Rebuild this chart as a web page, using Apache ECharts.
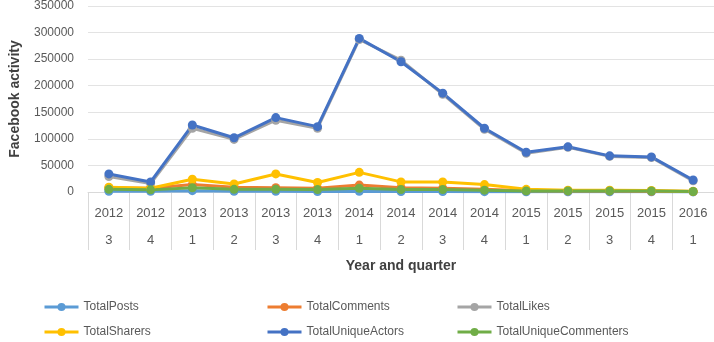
<!DOCTYPE html>
<html><head><meta charset="utf-8">
<script src="https://cdn.jsdelivr.net/npm/echarts@6/dist/echarts.min.js"></script>
<style>html,body{margin:0;padding:0;background:#fff}#c{width:714px;height:342px}</style>
</head><body><div id="c"></div>
<script>
var years = ['2012','2012','2013','2013','2013','2013','2014','2014','2014','2014','2015','2015','2015','2015','2016'];
var quarters = ['3','4','1','2','3','4','1','2','3','4','1','2','3','4','1'];
var yTicks = [0,50000,100000,150000,200000,250000,300000,350000];
var totalPosts = [1500,1200,2500,1500,1200,1000,1500,1000,900,700,500,400,400,300,200];
var totalComments = [8000,7000,14000,9000,8000,7000,13000,8000,7000,5000,2500,2000,2000,1500,800];
var totalLikes = [29000,16000,120000,99000,135000,120000,287000,248000,184000,118000,73000,84000,67000,65000,21000];
var totalSharers = [9000,7000,24000,15000,34000,18000,37000,19000,19000,14000,5000,3500,3500,3000,1200];
var totalUniqueActors = [34000,19000,126000,102000,140000,123000,289000,245000,186000,120000,74700,85000,68000,66000,22500];
var totalUniqueCommenters = [5000,4000,8000,5000,5000,4500,7000,4500,4500,3500,2000,2000,2000,1800,1000];

var names = ['TotalPosts','TotalComments','TotalLikes','TotalSharers','TotalUniqueActors','TotalUniqueCommenters'];
var datas = [totalPosts,totalComments,totalLikes,totalSharers,totalUniqueActors,totalUniqueCommenters];
var colors = ['#5B9BD5','#ED7D31','#A5A5A5','#FFC000','#4472C4','#70AD47'];
var cats = years.map(function(y,i){return y+'\n'+quarters[i];});
var txt = '#595959';
var chart = echarts.init(document.getElementById('c'));
function leg(left, data){
  return {left:left, top:301, orient:'vertical', itemGap:13, itemWidth:34, itemHeight:10, itemStyle:{borderWidth:0},
    lineStyle:{width:3},
    data:data, textStyle:{color:txt, fontSize:12}, padding:0, selectedMode:false};
}
chart.setOption({
  animation:false,
  color:colors,
  textStyle:{fontFamily:'Liberation Sans, sans-serif'},
  grid:{left:81, right:0, top:6, bottom:150},
  legend:[leg(43,['TotalPosts','TotalSharers']), leg(266,['TotalComments','TotalUniqueActors']), leg(456,['TotalLikes','TotalUniqueCommenters'])],
  xAxis:{type:'category', data:cats, boundaryGap:true,
    name:'Year and quarter', nameLocation:'middle', nameGap:65,
    nameTextStyle:{color:'#404040', fontWeight:'bold', fontSize:14},
    axisLine:{show:true, lineStyle:{color:'#d9d9d9'}},
    axisTick:{show:true, alignWithLabel:false, interval:0, length:58, lineStyle:{color:'#d9d9d9'}},
    axisLabel:{color:txt, fontSize:13, lineHeight:27, margin:8, interval:0}},
  yAxis:{type:'value', min:0, max:350000, interval:50000,
    name:'Facebook activity', nameLocation:'middle', nameGap:66, nameRotate:90,
    nameTextStyle:{color:'#404040', fontWeight:'bold', fontSize:14},
    axisLine:{show:false}, axisTick:{show:false},
    axisLabel:{color:txt, fontSize:12, margin:14, formatter:function(v){return String(v);}},
    splitLine:{lineStyle:{color:'#e3e3e3'}}},
  series:names.map(function(n,i){
    return {name:n, type:'line', data:datas[i], symbol:'circle', symbolSize:9,
      lineStyle:{width:3}, itemStyle:{color:colors[i]}};
  })
});
</script></body></html>
